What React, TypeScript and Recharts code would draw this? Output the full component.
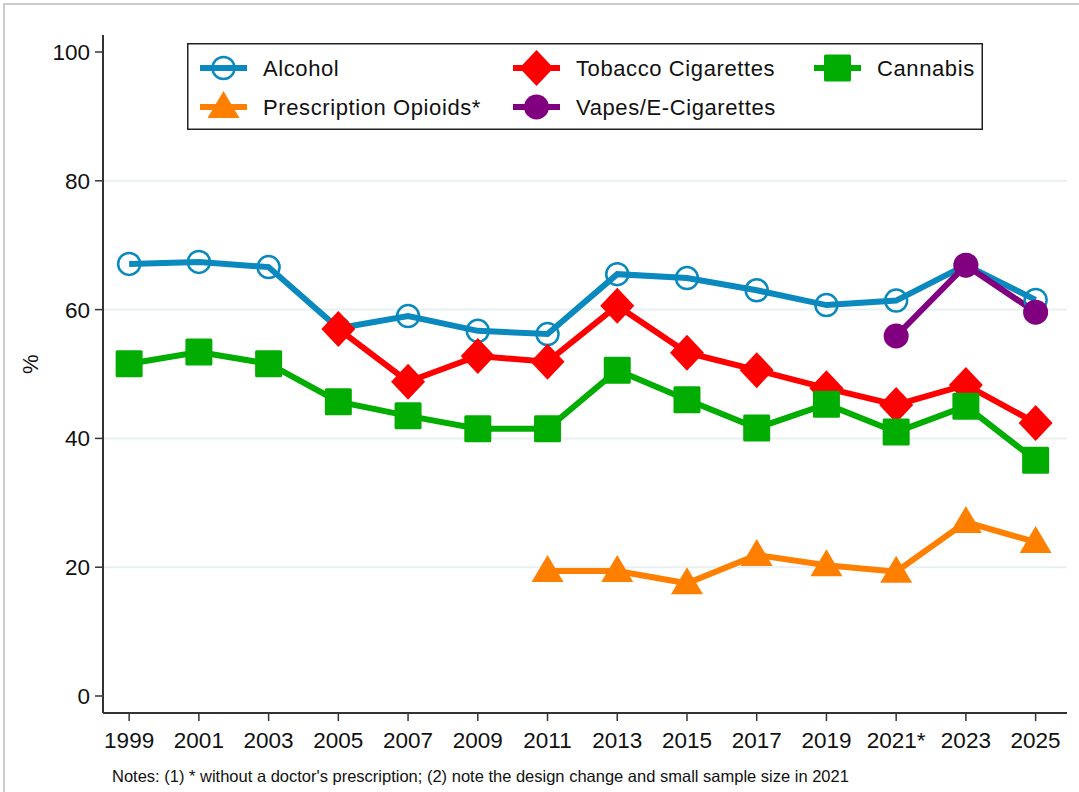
import React from "react";
import { LineChart, Line, XAxis, YAxis, CartesianGrid } from "recharts";

const years = [1999, 2001, 2003, 2005, 2007, 2009, 2011, 2013, 2015, 2017, 2019, 2021, 2023, 2025];
const alcohol = [67.1, 67.4, 66.6, 57.1, 59.0, 56.7, 56.2, 65.5, 64.9, 63.0, 60.7, 61.4, 66.9, 61.5];
const tobacco = [null, null, null, 57.0, 48.8, 52.8, 51.9, 60.6, 53.3, 50.6, 47.8, 45.2, 48.3, 42.4];
const cannabis = [51.6, 53.4, 51.6, 45.7, 43.5, 41.5, 41.5, 50.6, 46.0, 41.6, 45.3, 41.0, 45.0, 36.6];
const opioids = [null, null, null, null, null, null, 19.4, 19.4, 17.5, 21.9, 20.3, 19.3, 27.0, 23.9];
const vapes = [null, null, null, null, null, null, null, null, null, null, null, 55.9, 66.9, 59.6];
const yTicks = [0, 20, 40, 60, 80, 100];
const gridValues = [20, 40, 60, 80];

const Y_MIN = -2.64;
const Y_MAX = 102.64;

const COLORS = {
  alcohol: "#0a89bf",
  tobacco: "#ff0000",
  cannabis: "#02ad02",
  opioids: "#ff8000",
  vapes: "#800080",
};

const LABELS = {
  alcohol: "Alcohol",
  tobacco: "Tobacco Cigarettes",
  cannabis: "Cannabis",
  opioids: "Prescription Opioids*",
  vapes: "Vapes/E-Cigarettes",
};

const FONT = "'Liberation Sans', Arial, sans-serif";

const data = years.map((year, i) => ({
  year,
  alcohol: alcohol[i],
  tobacco: tobacco[i],
  cannabis: cannabis[i],
  opioids: opioids[i],
  vapes: vapes[i],
}));

// marker shapes
function marker(kind: string, cx: number, cy: number, key?: any) {
  const c = COLORS[kind as keyof typeof COLORS];
  switch (kind) {
    case "alcohol":
      return <circle key={key} cx={cx} cy={cy} r={11} fill="none" stroke={c} strokeWidth={2.5} />;
    case "tobacco":
      return (
        <polygon
          key={key}
          points={`${cx},${cy - 18} ${cx + 17},${cy} ${cx},${cy + 18} ${cx - 17},${cy}`}
          fill={c}
        />
      );
    case "cannabis":
      return <rect key={key} x={cx - 13.5} y={cy - 13.5} width={27} height={27} rx={1.5} fill={c} />;
    case "opioids":
      return (
        <polygon
          key={key}
          points={`${cx},${cy - 16} ${cx + 16},${cy + 11} ${cx - 16},${cy + 11}`}
          fill={c}
        />
      );
    default:
      return <circle key={key} cx={cx} cy={cy} r={12.5} fill={c} />;
  }
}

const makeDot = (kind: string) => (props: any) => {
  const { cx, cy, value, index } = props;
  if (cx == null || cy == null || value == null || Number.isNaN(cy)) return <g key={`e-${index}`} />;
  return marker(kind, cx, cy, `d-${index}`);
};

const legendRows = [
  ["alcohol", "tobacco", "cannabis"],
  ["opioids", "vapes"],
];
const colX = [13, 326, 627];
const rowY = [25, 64];

function ChartLegend() {
  return (
    <svg width={796} height={87} style={{ display: "block" }}>
      <rect x={0.75} y={0.75} width={794.5} height={85.5} fill="#fff" stroke="#222" strokeWidth={1.5} />
      {legendRows.map((row, r) =>
        row.map((kind, c) => {
          const x = colX[c];
          const y = rowY[r];
          return (
            <g key={kind}>
              <line x1={x} x2={x + 47} y1={y} y2={y} stroke={COLORS[kind as keyof typeof COLORS]} strokeWidth={6} />
              {marker(kind, x + 23.5, y)}
              <text x={x + 63} y={y} dy="0.36em" fontSize={22} letterSpacing={0.6} fontFamily={FONT} fill="#111">
                {LABELS[kind as keyof typeof LABELS]}
              </text>
            </g>
          );
        })
      )}
    </svg>
  );
}

export default function App() {
  const series = ["alcohol", "tobacco", "cannabis", "opioids", "vapes"];
  return (
    <div style={{ position: "absolute", left: 0, top: 0, width: 1079, height: 792, background: "#fff", fontFamily: FONT }}>
      <div
        style={{
          position: "absolute",
          left: 3,
          top: 3,
          right: 0,
          bottom: 0,
          borderTop: "2px solid #cccccc",
          borderLeft: "2px solid #cccccc",
        }}
      />
      <div style={{ position: "absolute", left: 0, top: 0 }}>
        <LineChart width={1079} height={792} data={data} margin={{ top: 35, right: 12, bottom: 0, left: 0 }}>
          <CartesianGrid
            vertical={false}
            stroke="#e8f0f2"
            strokeWidth={2}
            horizontalCoordinatesGenerator={({ offset }: any) =>
              gridValues.map((v) => offset.top + (offset.height * (Y_MAX - v)) / (Y_MAX - Y_MIN))
            }
          />
          <XAxis
            dataKey="year"
            type="number"
            domain={[1998.25, 2025.9]}
            ticks={years}
            interval={0}
            allowDataOverflow
            height={79}
            tickSize={8}
            tickMargin={11}
            tickFormatter={(v) => (v === 2021 ? "2021*" : String(v))}
            axisLine={{ stroke: "#333", strokeWidth: 2 }}
            tickLine={{ stroke: "#333", strokeWidth: 1.5 }}
            tick={{ fill: "#111", fontSize: 22.5, fontFamily: FONT }}
          />
          <YAxis
            type="number"
            domain={[Y_MIN, Y_MAX]}
            ticks={yTicks}
            interval={0}
            allowDataOverflow
            width={103}
            tickSize={8}
            tickMargin={5}
            axisLine={{ stroke: "#333", strokeWidth: 2 }}
            tickLine={{ stroke: "#333", strokeWidth: 1.5 }}
            tick={{ fill: "#111", fontSize: 22.5, fontFamily: FONT }}
            label={{ value: "%", angle: -90, position: "insideLeft", offset: 30, fill: "#111", fontSize: 22, fontFamily: FONT }}
          />
          {series.map((k) => (
            <Line
              key={k}
              dataKey={k}
              type="linear"
              stroke={COLORS[k as keyof typeof COLORS]}
              strokeWidth={6}
              dot={makeDot(k)}
              activeDot={false}
              connectNulls={false}
              isAnimationActive={false}
              legendType="none"
            />
          ))}
        </LineChart>
      </div>
      <div style={{ position: "absolute", left: 187, top: 43 }}>
        <ChartLegend />
      </div>
      <div
        style={{
          position: "absolute",
          left: 112,
          top: 767,
          fontSize: 16.5,
          color: "#111",
          whiteSpace: "nowrap",
          fontFamily: FONT,
        }}
      >
        Notes: (1) * without a doctor's prescription; (2) note the design change and small sample size in 2021
      </div>
    </div>
  );
}
